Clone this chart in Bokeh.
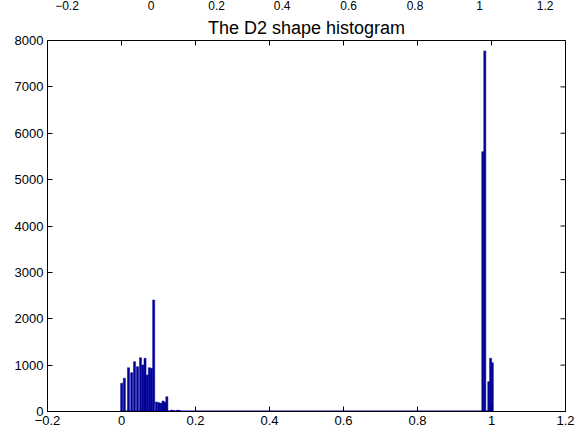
import math
from bokeh.plotting import figure
from bokeh.layouts import column
from bokeh.models import FixedTicker, Range1d
from bokeh.core.properties import value
from bokeh.embed import file_html
from bokeh.resources import INLINE

# ---- data ----
bin_centers = [0.0005, 0.0077, 0.0189, 0.0275, 0.0352, 0.0433, 0.0514, 0.0577,
               0.0636, 0.0694, 0.0753, 0.0811, 0.0870, 0.0947, 0.1010, 0.1064,
               0.1123, 0.1177, 0.1226, 0.1350, 0.1410, 0.1520, 0.1570,
               0.9765, 0.9819, 0.9927, 0.9976, 1.0022]
bin_counts = [608, 716, 945, 837, 1074, 966, 1160, 1003,
              1147, 787, 945, 931, 2404, 205, 190, 177,
              226, 198, 319, 30, 20, 30, 20,
              5602, 7774, 643, 1147, 1052]
x_ticks = [-0.2, 0, 0.2, 0.4, 0.6, 0.8, 1, 1.2]
y_ticks = [0, 1000, 2000, 3000, 4000, 5000, 6000, 7000, 8000]
x_tick_labels = ["\u22120.2", "0", "0.2", "0.4", "0.6", "0.8", "1", "1.2"]
top_strip_labels = ["\u22120.2", "0", "0.2", "0.4", "0.6", "0.8", "1", "1.2"]
title_text = "The D2 shape histogram"

# ---- layout / style ----
FONT = "Liberation Sans"
BAR_W = 0.0056
NAVY = "#00008F"
W = 585
STRIP_H = 12
top_label_px = [22, 117, 191, 265, 340, 415, 488, 562]  # pixel centers of the top strip labels

# strip at the very top: tick labels of a previous panel
strip = figure(width=W, height=STRIP_H, output_backend="svg", toolbar_location=None,
               x_range=Range1d(0, W), y_range=Range1d(0, STRIP_H),
               min_border=0, x_axis_type=None, y_axis_type=None)
strip.grid.visible = False
strip.outline_line_color = None
strip.text(x=top_label_px, y=[STRIP_H] * len(top_label_px), text=top_strip_labels,
           text_align="center", text_baseline="top", text_font=value(FONT),
           text_font_size="12px", text_color="black")

p = figure(width=W, height=434 - STRIP_H, output_backend="svg", toolbar_location=None,
           x_range=Range1d(-0.2, 1.2), y_range=Range1d(0, 8000),
           min_border_left=47, min_border_right=20, min_border_top=40 - STRIP_H,
           min_border_bottom=23)
p.grid.visible = False
p.outline_line_color = "black"
p.outline_line_width = 1
p.background_fill_color = "white"
p.border_fill_color = "white"

p.title.text = title_text
p.title.align = "center"
p.title.text_font = FONT
p.title.text_font_size = "18px"
p.title.text_font_style = "normal"
p.title.text_color = "black"
p.title.standoff = 6

for ax in [p.xaxis[0], p.yaxis[0]]:
    ax.major_tick_in = 5
    ax.major_tick_out = 0
    ax.minor_tick_line_color = None
    ax.axis_line_color = "black"
    ax.major_tick_line_color = "black"
    ax.major_label_text_font = FONT
    ax.major_label_text_font_size = "13px"
    ax.major_label_text_color = "black"
    ax.major_label_standoff = 4
p.xaxis[0].ticker = FixedTicker(ticks=x_ticks)
p.yaxis[0].ticker = FixedTicker(ticks=y_ticks)
p.xaxis[0].major_label_overrides = dict(zip(x_ticks, x_tick_labels))

# mirrored inward ticks on top and right edges (box on)
p.ray(x=x_ticks, y=[y_ticks[-1]] * len(x_ticks), length=5, length_units="screen",
      angle=-math.pi / 2, line_color="black", line_width=1)
p.ray(x=[x_ticks[-1]] * len(y_ticks), y=y_ticks, length=5, length_units="screen",
      angle=math.pi, line_color="black", line_width=1)

# zero-count bins: baseline across the histogram's range
p.segment(x0=[min(bin_centers) - BAR_W / 2], x1=[max(bin_centers) + BAR_W / 2],
          y0=[0], y1=[0], line_color=NAVY, line_width=2)

p.vbar(x=bin_centers, top=bin_counts, bottom=0, width=BAR_W,
       fill_color=NAVY, line_color="#0000A8", line_width=0.5)

layout = column(strip, p, spacing=0)
open("out.html", "w").write(file_html(layout, INLINE))
